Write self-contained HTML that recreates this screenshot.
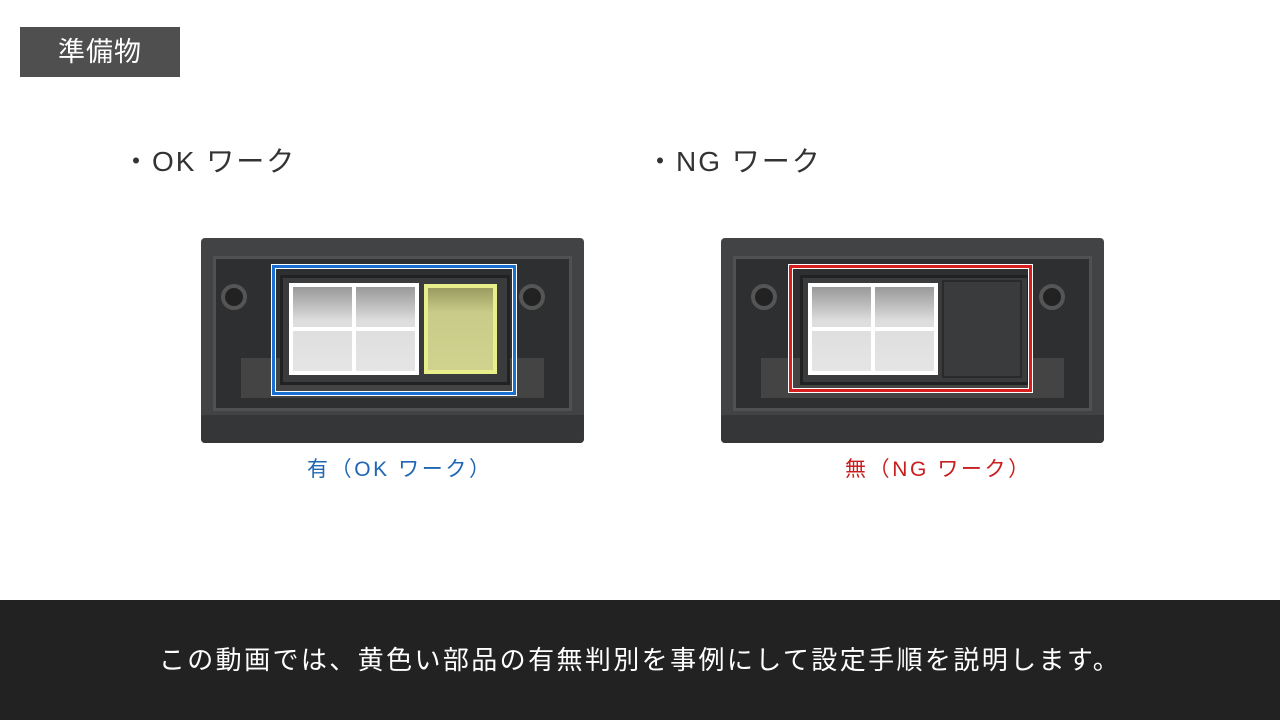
<!DOCTYPE html><html><head><meta charset="utf-8"><style>
*{margin:0;padding:0;box-sizing:border-box}
body{width:1280px;height:720px;background:#fff;position:relative;overflow:hidden;font-family:"Liberation Sans","Noto Sans CJK JP",sans-serif}
.a{position:absolute}
.hdr{left:20px;top:27px;width:160px;height:50px;background:#4f4f4f;color:#fff;font-size:27px;line-height:50px;text-align:center;letter-spacing:1px}
.bul{font-size:28px;color:#333;top:140px;letter-spacing:2px}
.tray{width:383px;height:205px;top:238px;background:#424345;border-radius:4px}
.side{left:0;bottom:0;width:100%;height:28px;background:#353638;border-radius:0 0 4px 4px}
.rec{left:12px;top:18px;width:359px;height:155px;background:#2e2f31;border:3px solid #505153}
.ledge{left:40px;top:120px;width:303px;height:40px;background:#48494b}
.post{width:26px;height:26px;border-radius:50%;border:4px solid #555;background:#222;top:46px}
.inner{background:#3a3b3d;border:3px solid #222}
.grid{background:linear-gradient(#999,#ddd 40%,#e5e5e5);border:4px solid #fff}
.grid:before{content:"";position:absolute;left:50%;top:0;bottom:0;width:4px;margin-left:-2px;background:#fff}
.grid:after{content:"";position:absolute;top:50%;left:0;right:0;height:4px;margin-top:-2px;background:#fff}
.lbl{font-size:21px;top:453px;letter-spacing:2.6px}
.bar{left:0;top:600px;width:1280px;height:120px;background:#222;color:#fff;font-size:26px;text-align:center;line-height:120px;letter-spacing:2.4px}
</style></head><body>
<div class="a hdr">準備物</div>
<div class="a bul" style="left:122px">・OK ワーク</div>
<div class="a bul" style="left:646px">・NG ワーク</div>

<div class="a tray" style="left:201px">
 <div class="a side"></div>
 <div class="a rec"></div>
 <div class="a ledge" style="background:#444"></div>
 <div class="a post" style="left:20px"></div>
 <div class="a post" style="left:318px"></div>
 <div class="a inner" style="left:79px;top:37px;width:230px;height:110px"></div>
 <div class="a grid" style="left:88px;top:45px;width:130px;height:92px"></div>
 <div class="a" style="left:223px;top:46px;width:73px;height:90px;border:4px solid #e8ee8a;background:linear-gradient(#9a9c60,#c9cc88 30%,#d0d38e)"></div>
 <div class="a" style="left:70px;top:26px;width:246px;height:132px;border:1px solid #fff"><div class="a" style="left:0;top:0;right:0;bottom:0;border:3px solid #1a6fd0"><div class="a" style="left:0;top:0;right:0;bottom:0;border:1px solid #fff"></div></div></div>
</div>
<div class="a lbl" style="left:307px;color:#1f66b3">有（OK ワーク）</div>

<div class="a tray" style="left:721px">
 <div class="a side"></div>
 <div class="a rec"></div>
 <div class="a ledge" style="background:#444"></div>
 <div class="a post" style="left:30px"></div>
 <div class="a post" style="left:318px"></div>
 <div class="a inner" style="left:79px;top:37px;width:230px;height:110px"></div>
 <div class="a grid" style="left:87px;top:45px;width:130px;height:92px"></div>
 <div class="a" style="left:221px;top:42px;width:80px;height:98px;background:#3a3b3d;border:2px solid #2a2a2a"></div>
 <div class="a" style="left:67px;top:26px;width:245px;height:129px;border:1px solid #fff"><div class="a" style="left:0;top:0;right:0;bottom:0;border:3px solid #d91e1e"><div class="a" style="left:0;top:0;right:0;bottom:0;border:1px solid #fff"></div></div></div>
</div>
<div class="a lbl" style="left:845px;color:#c81e1e">無（NG ワーク）</div>

<div class="a bar">この動画では、黄色い部品の有無判別を事例にして設定手順を説明します。</div>
</body></html>
